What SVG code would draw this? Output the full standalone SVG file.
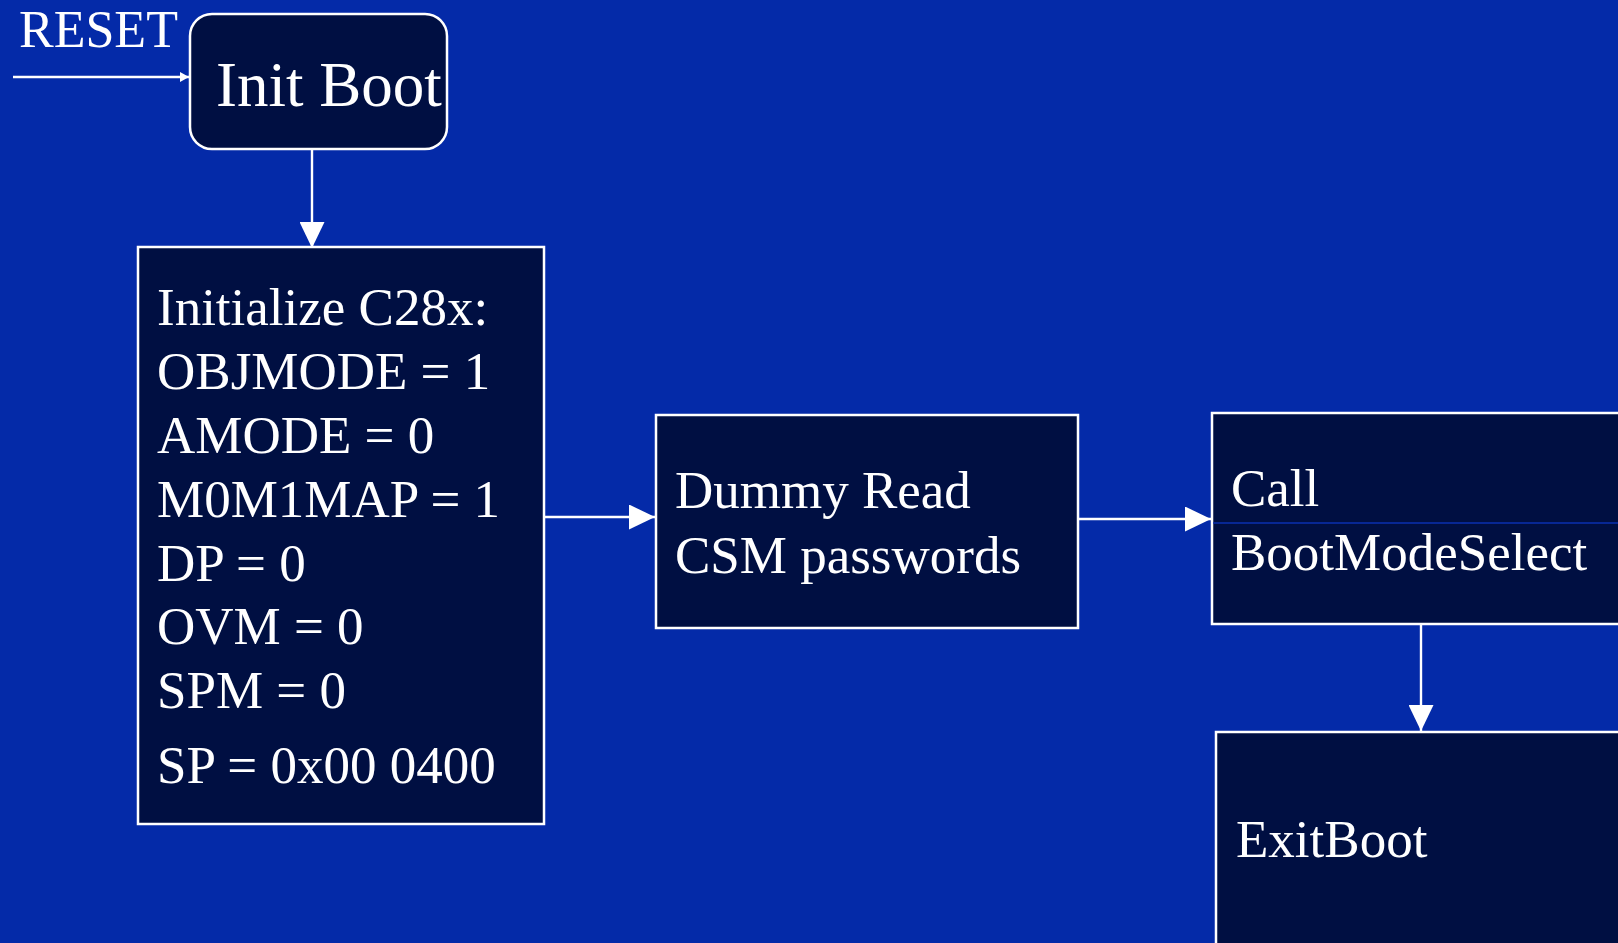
<svg xmlns="http://www.w3.org/2000/svg" width="1618" height="943" viewBox="0 0 1618 943">
  <defs>
    <style>
      .box { fill: #000f42; stroke: #ffffff; stroke-width: 2.5; }
      .lbl { font-family: "Liberation Serif", "Times New Roman", serif; fill: #ffffff; font-size: 53px; }
      .wire { stroke: #ffffff; stroke-width: 2.4; fill: none; }
    </style>
    <marker id="head" viewBox="0 0 26 25" refX="26" refY="12.5" markerWidth="26" markerHeight="25" markerUnits="userSpaceOnUse" orient="auto">
      <path d="M0,0 L26,12.5 L0,25 Z" fill="#ffffff"/>
    </marker>
    <marker id="headSmall" viewBox="0 0 9 10" refX="9" refY="5" markerWidth="9" markerHeight="10" markerUnits="userSpaceOnUse" orient="auto">
      <path d="M0,0 L9,5 L0,10 Z" fill="#ffffff"/>
    </marker>
  </defs>

  <!-- page background -->
  <rect x="0" y="0" width="1618" height="943" fill="#042aa8"/>

  <!-- reset input label -->
  <text class="lbl" x="19" y="47" style="font-size:52px">RESET</text>

  <g id="init-boot">
    <rect class="box" x="190" y="14" width="257" height="135" rx="22" ry="22"/>
    <text class="lbl" x="216" y="106" style="font-size:63px">Init Boot</text>
  </g>

  <g id="init-c28x">
    <rect class="box" x="138" y="247" width="406" height="577"/>
    <text class="lbl" x="157" y="325">Initialize C28x:</text>
    <text class="lbl" x="157" y="389">OBJMODE = 1</text>
    <text class="lbl" x="157" y="453">AMODE = 0</text>
    <text class="lbl" x="157" y="517">M0M1MAP = 1</text>
    <text class="lbl" x="157" y="581">DP = 0</text>
    <text class="lbl" x="157" y="644">OVM = 0</text>
    <text class="lbl" x="157" y="708">SPM = 0</text>
    <text class="lbl" x="157" y="783">SP = 0x00 0400</text>
  </g>

  <g id="dummy-read">
    <rect class="box" x="656" y="415" width="422" height="213"/>
    <text class="lbl" x="675" y="508">Dummy Read</text>
    <text class="lbl" x="675" y="573">CSM passwords</text>
  </g>

  <g id="boot-mode-select">
    <rect class="box" x="1212" y="413" width="420" height="211"/>
    <line x1="1213" y1="523" x2="1618" y2="523" stroke="#0a30b0" stroke-width="1.5"/>
    <text class="lbl" x="1231" y="506">Call</text>
    <text class="lbl" x="1231" y="570">BootModeSelect</text>
  </g>

  <g id="exit-boot">
    <rect class="box" x="1216" y="732" width="420" height="230"/>
    <text class="lbl" x="1236" y="857">ExitBoot</text>
  </g>

  <g id="connectors">
    <line class="wire" x1="13" y1="77" x2="189" y2="77" marker-end="url(#headSmall)"/>
    <line class="wire" x1="312" y1="149" x2="312" y2="248" marker-end="url(#head)"/>
    <line class="wire" x1="544" y1="517" x2="655" y2="517" marker-end="url(#head)"/>
    <line class="wire" x1="1078" y1="519" x2="1211" y2="519" marker-end="url(#head)"/>
    <line class="wire" x1="1421" y1="625" x2="1421" y2="731" marker-end="url(#head)"/>
  </g>
</svg>
